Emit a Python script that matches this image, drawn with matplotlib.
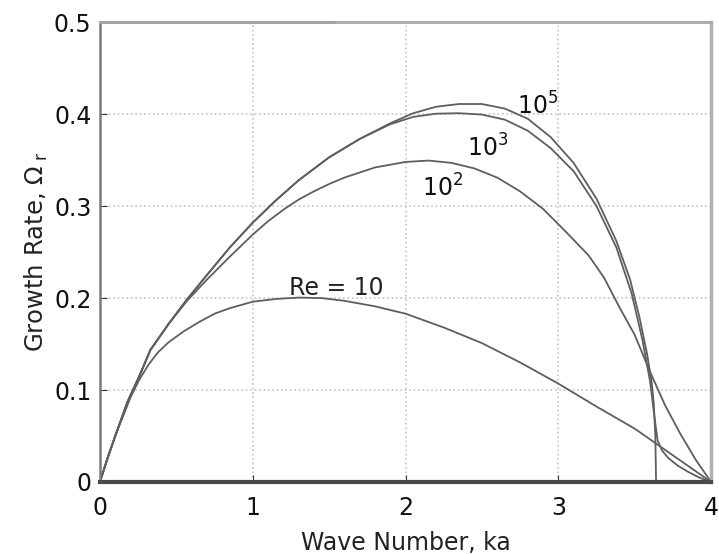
import matplotlib
matplotlib.use('Agg')
import matplotlib.pyplot as plt

plt.rcParams['font.family'] = ['DejaVu Sans']
plt.rcParams['mathtext.fontset'] = 'dejavusans'

# growth rate curves, one per Reynolds number
ka_re10 = [0, 0.05, 0.1, 0.15, 0.2, 0.26, 0.32, 0.38, 0.45, 0.55, 0.65, 0.75, 0.85,
           1.0, 1.15, 1.3, 1.45, 1.6, 1.8, 2.0, 2.25, 2.5, 2.75, 3.0, 3.25, 3.5,
           3.75, 4.0]
om_re10 = [0, 0.026, 0.05, 0.071, 0.092, 0.112, 0.128, 0.141, 0.152, 0.164, 0.174,
           0.183, 0.189, 0.196, 0.199, 0.2005, 0.2, 0.197, 0.191, 0.183, 0.168,
           0.151, 0.13, 0.107, 0.082, 0.058, 0.029, 0.0]

ka_re100 = [0, 0.05, 0.1, 0.18, 0.26, 0.33, 0.45, 0.57, 0.7, 0.85, 1.0, 1.1, 1.2,
            1.3, 1.4, 1.5, 1.6, 1.8, 2.0, 2.15, 2.3, 2.45, 2.6, 2.75, 2.9, 3.05,
            3.2, 3.3, 3.4, 3.5, 3.6, 3.7, 3.8, 3.9, 4.0]
om_re100 = [0, 0.026, 0.05, 0.087, 0.116, 0.1435, 0.172, 0.197, 0.22, 0.245, 0.269,
            0.2835, 0.296, 0.307, 0.316, 0.324, 0.331, 0.342, 0.348, 0.3495, 0.347,
            0.341, 0.331, 0.316, 0.297, 0.272, 0.246, 0.222, 0.19, 0.16, 0.12, 0.083,
            0.052, 0.024, 0.0]

ka_re1e3 = [0, 0.05, 0.1, 0.18, 0.26, 0.33, 0.45, 0.567, 0.7, 0.85, 1.0, 1.15, 1.3,
            1.5, 1.7, 1.9, 2.05, 2.2, 2.35, 2.5, 2.65, 2.8, 2.95, 3.1, 3.25, 3.38,
            3.48, 3.55, 3.6, 3.63, 3.65, 3.68, 3.72, 3.78, 3.85, 3.92, 4.0]
om_re1e3 = [0, 0.026, 0.05, 0.087, 0.116, 0.1435, 0.172, 0.198, 0.225, 0.255, 0.282,
            0.306, 0.328, 0.353, 0.373, 0.389, 0.397, 0.4005, 0.401, 0.3995, 0.394,
            0.382, 0.363, 0.338, 0.3, 0.255, 0.205, 0.155, 0.11, 0.07, 0.045, 0.034,
            0.026, 0.018, 0.011, 0.005, 0.0]

ka_re1e5 = [0, 0.05, 0.1, 0.18, 0.26, 0.33, 0.45, 0.567, 0.7, 0.85, 1.0, 1.15, 1.3,
            1.5, 1.7, 1.9, 2.05, 2.2, 2.35, 2.5, 2.65, 2.8, 2.95, 3.1, 3.25, 3.38,
            3.47, 3.53, 3.58, 3.61, 3.625, 3.635, 3.64]
om_re1e5 = [0, 0.026, 0.05, 0.087, 0.116, 0.1435, 0.172, 0.198, 0.225, 0.255, 0.282,
            0.306, 0.328, 0.353, 0.373, 0.39, 0.401, 0.408, 0.411, 0.411, 0.406,
            0.395, 0.375, 0.347, 0.308, 0.262, 0.22, 0.18, 0.14, 0.11, 0.085, 0.05, 0.0]

x_ticks = [0, 1, 2, 3, 4]
y_ticks = [0, 0.1, 0.2, 0.3, 0.4, 0.5]
y_ticklabels = ['0', '0.1', '0.2', '0.3', '0.4', '0.5']

fig = plt.figure(figsize=(7.19, 5.54), dpi=100)
ax = fig.add_axes([0.139, 0.130, 0.850, 0.830])

line_color = '#5e5e5e'
for ka, om in [(ka_re10, om_re10), (ka_re100, om_re100),
               (ka_re1e3, om_re1e3), (ka_re1e5, om_re1e5)]:
    ax.plot(ka, om, color=line_color, lw=1.3)

# curve labels
ax.text(1.24, 0.203, 'Re = 10', fontsize=17, color='#222222')
ax.text(2.11, 0.31, r'$10^2$', fontsize=17, color='#111111')
ax.text(2.40, 0.354, r'$10^3$', fontsize=17, color='#111111')
ax.text(2.73, 0.399, r'$10^5$', fontsize=17, color='#111111')

ax.set_xlim(0, 4)
ax.set_ylim(0, 0.5)
ax.set_xticks(x_ticks)
ax.set_yticks(y_ticks)
ax.set_yticklabels(y_ticklabels)
ax.tick_params(direction='in', length=5, labelsize=17, colors='#333333',
               labelcolor='#111111')
ax.tick_params(axis='x', pad=10)
ax.tick_params(axis='y', pad=6)
ax.grid(True, linestyle=':', color='#c4c4c4', lw=1.2)

ax.set_xlabel('Wave Number, ka', fontsize=17, color='#222222', labelpad=8)
ax.set_ylabel(r'Growth Rate, $\Omega_{\mathrm{\ r}}$', fontsize=17.5, color='#222222',
              labelpad=3)

ax.spines['bottom'].set_color('#4a4a4a')
ax.spines['bottom'].set_linewidth(3)
ax.spines['left'].set_color('#7a7a7a')
ax.spines['left'].set_linewidth(1.8)
ax.spines['top'].set_color('#a8a8a8')
ax.spines['top'].set_linewidth(2)
ax.spines['right'].set_color('#b0b0b0')
ax.spines['right'].set_linewidth(2.5)
# darker stretch on the left part of the top border, as in the scan
ax.plot([0, 0.383], [1, 1], transform=ax.transAxes, color='#555555', lw=2,
        clip_on=False)

fig.savefig('out.png', dpi=100)
